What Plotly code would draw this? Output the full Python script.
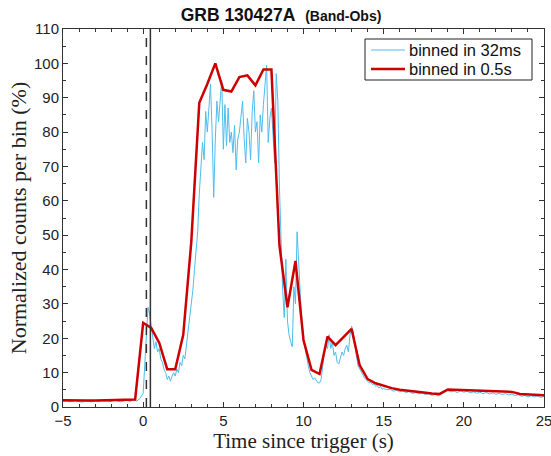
import numpy as np
import plotly.graph_objects as go

# ---------------- data ----------------
# 32 ms light curve (hand-read, sampled coarser than the original bins)
blue_t_pre = np.round(np.arange(-5.0, -0.05, 0.2), 2)          # -5 .. -0.2
blue_v_pre = [1.6, 1.8, 1.5, 1.7, 1.9, 1.6, 1.4, 1.8, 1.7, 1.5,
              1.9, 1.6, 1.8, 1.7, 1.5, 1.6, 2.0, 1.7, 1.5, 1.8,
              1.9, 1.6, 2.2, 1.7, 2.5]
blue_t_mid = np.round(np.arange(0.0, 14.95, 0.1), 2)           # 0 .. 14.9
blue_v_mid = [4, 12, 22, 29, 27, 24, 21, 17, 19, 16,
              17, 14, 13, 11, 10, 8, 9, 7.5, 9, 10,
              9, 11, 10, 13, 12, 15, 14, 18, 22, 27,
              30, 34, 40, 46, 51, 62, 70, 77, 72, 86,
              80, 88, 94, 80, 61, 78, 89, 83, 90, 95,
              75, 88, 76, 87, 77, 80, 74, 82, 69, 78,
              80, 85, 89, 78, 71, 84, 80, 72, 86, 92,
              80, 83, 71, 85, 80, 88, 95, 99.5, 77, 84,
              87, 78, 71, 97, 89, 64, 48, 34, 26, 43,
              25, 21, 19, 17.5, 35, 30, 51, 40, 33, 25,
              19, 17, 14, 12, 10, 9, 8, 8.5, 7.5, 7,
              7, 8, 12, 16, 18, 17, 21, 17, 19, 15,
              16, 13, 12.5, 14, 16, 15, 17, 18, 16, 21,
              23.5, 22, 18, 15, 12, 11, 10, 9, 8.5, 8,
              7.5, 7, 7.2, 6.5, 6.8, 6, 6.3, 5.5, 6, 5.2]
blue_t_tail = np.round(np.arange(15.0, 25.01, 0.2), 2)         # 15 .. 25
blue_v_tail = [5.4, 5.0, 5.2, 4.6, 4.9, 4.4, 4.7, 4.2, 4.5, 3.9,
               4.3, 3.8, 4.1, 3.6, 3.9, 3.4, 3.7, 3.2, 3.8, 4.3,
               4.8, 4.4, 4.6, 4.2, 4.7, 4.3, 4.6, 4.1, 4.4, 4.0,
               4.3, 3.9, 4.2, 3.8, 4.1, 3.7, 4.0, 3.6, 3.9, 3.5,
               3.8, 3.3, 3.6, 3.1, 3.4, 2.9, 3.3, 2.9, 3.2, 2.8,
               3.1]

# 0.5 s light curve
red_t = np.round(np.arange(-5.0, 25.01, 0.5), 2)
red_v = [2.0, 1.9, 1.8, 1.9, 1.9, 2.0, 2.0, 2.1, 2.1, 2.2,
         24.5, 23.0, 18.7, 11.0, 11.0, 21.0, 48.0, 88.5, 94.0, 100.0,
         92.3, 91.8, 96.0, 96.5, 93.6, 98.2, 98.2, 47.0, 29.0, 42.5,
         19.5, 10.8, 9.6, 20.5, 18.0, 20.3, 22.7, 12.2, 8.1, 6.9,
         6.1, 5.5, 5.0, 4.8, 4.5, 4.2, 3.9, 3.8, 5.1, 5.0,
         5.0, 4.8, 4.7, 4.6, 4.5, 4.4, 4.4, 3.8, 3.6, 3.5,
         3.4]

dashed_x = 0.2
solid_x = 0.45

series_names = ["binned in 32ms", "binned in 0.5s"]
series_colors = ["#4DBEEE", "#CC0000"]
series_widths = [1, 2.5]

blue_t = list(blue_t_pre) + list(blue_t_mid) + list(blue_t_tail)
blue_v = blue_v_pre + blue_v_mid + blue_v_tail

# ---------------- figure ----------------
W, H = 551, 456
ML, MR, MT, MB = 63, 7, 29, 49
PW, PH = W - ML - MR, H - MT - MB


def px_x(px):
    return (px - ML) / PW


def px_y(py):
    return (H - MB - py) / PH


fig = go.Figure()
fig.add_trace(go.Scatter(x=blue_t, y=blue_v, mode="lines",
                         line=dict(color=series_colors[0], width=series_widths[0]),
                         name=series_names[0], showlegend=False))
fig.add_trace(go.Scatter(x=red_t, y=red_v, mode="lines",
                         line=dict(color=series_colors[1], width=series_widths[1]),
                         name=series_names[1], showlegend=False))

fig.add_vline(x=dashed_x, line=dict(color="#333333", width=1.5, dash="dash"))
fig.add_vline(x=solid_x, line=dict(color="#333333", width=1.5))

# legend box drawn by hand (compact, MATLAB-like)
fig.add_shape(type="rect", xref="paper", yref="paper",
              x0=px_x(365), x1=px_x(532), y0=px_y(80), y1=px_y(39),
              line=dict(color="#222", width=1), fillcolor="white", layer="above")
for i, (nm, col, wd) in enumerate(zip(series_names, series_colors, series_widths)):
    yy = px_y(50 + i * 19)
    fig.add_shape(type="line", xref="paper", yref="paper",
                  x0=px_x(371), x1=px_x(405), y0=yy, y1=yy,
                  line=dict(color=col, width=wd), layer="above")
    fig.add_annotation(xref="paper", yref="paper", x=px_x(408), y=yy,
                       xanchor="left", yanchor="middle", showarrow=False, borderpad=0,
                       text=nm, font=dict(family="Liberation Sans, Arial, sans-serif",
                                          size=16.5, color="#111"))

axis_common = dict(
    showline=True, linecolor="#333333", linewidth=1, mirror="ticks",
    ticks="inside", ticklen=5, tickcolor="#333333", tickwidth=1,
    showgrid=False, zeroline=False, automargin=False,
    tickfont=dict(family="Liberation Sans, Arial, sans-serif", size=15, color="#222"),
)

fig.update_xaxes(range=[-5, 25], tickmode="linear", tick0=-5, dtick=5,
                 ticklabeloverflow="allow",
                 minor=dict(ticks="inside", ticklen=3, dtick=1, tick0=-5,
                            tickcolor="#333333", showgrid=False),
                 title=dict(text="Time since trigger (s)",
                            font=dict(family="Liberation Serif, Times New Roman, serif",
                                      size=21, color="#222"),
                            standoff=0),
                 **axis_common)
fig.update_yaxes(range=[0, 110], tickmode="linear", tick0=0, dtick=10,
                 minor=dict(ticks="inside", ticklen=3, dtick=5, tick0=0,
                            tickcolor="#333333", showgrid=False),
                 title=dict(text="Normalized counts per bin (%)",
                            font=dict(family="Liberation Serif, Times New Roman, serif",
                                      size=22, color="#222"),
                            standoff=1),
                 **axis_common)

fig.update_layout(
    width=W, height=H,
    margin=dict(l=ML, r=MR, t=MT, b=MB),
    paper_bgcolor="white", plot_bgcolor="white",
    title=dict(text="<b>GRB 130427A&nbsp; <span style='font-size:14px'>(Band-Obs)</span></b>",
               x=281 / W, xanchor="center", y=1 - 15 / H, yanchor="middle",
               font=dict(family="Liberation Sans, Arial, sans-serif", size=17.5, color="#111")),
    showlegend=False,
)

fig.write_html("out.html", config={"displayModeBar": False},
               post_script="document.body.style.margin='0px';document.body.style.overflow='hidden';")
